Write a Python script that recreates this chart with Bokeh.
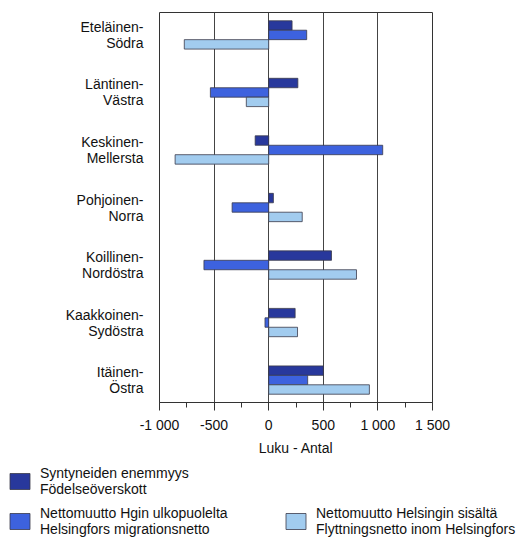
from bokeh.plotting import figure
from bokeh.layouts import column
from bokeh.models import (ColumnDataSource, Range1d, FixedTicker, SingleIntervalTicker,
                          Legend, LegendItem)
from bokeh.transform import dodge
from bokeh.embed import file_html
from bokeh.resources import INLINE

regions = ["Eteläinen-\nSödra", "Läntinen-\nVästra", "Keskinen-\nMellersta",
           "Pohjoinen-\nNorra", "Koillinen-\nNordöstra", "Kaakkoinen-\nSydöstra",
           "Itäinen-\nÖstra"]
births = [214, 267, -124, 43, 575, 242, 500]
external_migration = [348, -534, 1044, -335, -593, -34, 357]
internal_migration = [-773, -205, -857, 307, 804, 264, 922]
x_ticks = [-1000, -500, 0, 500, 1000, 1500]
x_tick_labels = ["-1 000", "-500", "0", "500", "1 000", "1 500"]
series_labels = ["Syntyneiden enemmyys\nFödelseöverskott",
                 "Nettomuutto Hgin ulkopuolelta\nHelsingfors migrationsnetto",
                 "Nettomuutto Helsingin sisältä\nFlyttningsnetto inom Helsingfors"]
colors = ["#28389c", "#3d62de", "#a2ccef"]

FONT = "Liberation Sans"
LINE = "#3a3a4a"

src = ColumnDataSource(dict(
    y=list(range(len(regions))),
    births=births, ext=external_migration, intl=internal_migration))

p = figure(width=531, height=458, output_backend="svg", toolbar_location=None,
           x_range=Range1d(-1000, 1500), y_range=Range1d(6.39, -0.39),
           min_border_left=159, min_border_right=99, min_border_top=12,
           min_border_bottom=53, frame_align=False)

bh = 0.164
fields = ["births", "ext", "intl"]
offsets = [-bh, 0, bh]
for f, off, c in zip(fields, offsets, colors):
    p.hbar(y=dodge("y", off, range=p.y_range), left=0, right=f, height=bh,
           source=src, fill_color=c, line_color=LINE, line_width=0.8)

# axes
p.xaxis.ticker = SingleIntervalTicker(interval=500, num_minor_ticks=2)
p.xaxis.major_label_overrides = {t: l for t, l in zip(x_ticks, x_tick_labels)}
p.xaxis.axis_label = "Luku - Antal"
p.xaxis.axis_label_text_font = FONT
p.xaxis.axis_label_text_font_size = "14px"
p.xaxis.axis_label_text_font_style = "normal"
p.xaxis.axis_label_standoff = 4
p.xaxis.major_label_text_font = FONT
p.xaxis.major_label_text_font_size = "14px"
p.xaxis.major_label_standoff = 6
p.xaxis.major_tick_out = 8
p.xaxis.major_tick_in = 0
p.xaxis.minor_tick_out = 5
p.xaxis.minor_tick_in = 0
p.xaxis.axis_line_color = "#333333"
p.xaxis.major_tick_line_color = "#333333"
p.xaxis.minor_tick_line_color = "#333333"
p.xaxis.major_label_text_color = "#111111"
p.xaxis.axis_label_text_color = "#111111"

p.yaxis.ticker = FixedTicker(ticks=list(range(len(regions))))
p.yaxis.major_label_overrides = {i: lab for i, lab in enumerate(regions)}
p.yaxis.major_label_text_font = FONT
p.yaxis.major_label_text_font_size = "14px"
p.yaxis.major_label_text_line_height = 1.0
p.yaxis.major_label_text_color = "#111111"
p.yaxis.major_label_standoff = 10
p.yaxis.axis_line_color = None
p.yaxis.major_tick_line_color = None
p.yaxis.minor_tick_line_color = None

p.xgrid.ticker = FixedTicker(ticks=x_ticks)
p.xgrid.grid_line_color = "#444444"
p.xgrid.grid_line_width = 1
p.ygrid.grid_line_color = None
p.outline_line_color = "#333333"
p.outline_line_width = 1

# legend in its own figure below (hidden copies of the bars feed the legend glyphs)
lf = figure(width=531, height=82, output_backend="svg", toolbar_location=None,
            x_axis_location=None, y_axis_location=None, min_border=0,
            outline_line_color=None, frame_align=False)
lf.grid.visible = False
legend_renderers = []
for f, c in zip(fields, colors):
    r = lf.hbar(y="y", left=0, right=f, height=bh, source=src, fill_color=c,
                line_color=LINE, line_width=0.8)
    r.visible = False
    legend_renderers.append(r)
blank = lf.hbar(y=[], left=[], right=[], height=1, fill_alpha=0, line_alpha=0)

items = [LegendItem(label=series_labels[0], renderers=[legend_renderers[0]]),
         LegendItem(label=series_labels[1], renderers=[legend_renderers[1]]),
         LegendItem(label=" ", renderers=[blank]),
         LegendItem(label=series_labels[2], renderers=[legend_renderers[2]])]
legend = Legend(items=items, location="top_left", orientation="vertical", nrows=2,
                padding=1, margin=7, spacing=8, border_line_color=None,
                background_fill_alpha=0, glyph_width=25, glyph_height=20,
                label_standoff=8, label_width=235,
                label_text_font=FONT, label_text_font_size="14px",
                label_text_line_height=1.0,
                label_text_color="#111111")
lf.add_layout(legend, "center")

open("out.html", "w").write(file_html(column(p, lf, spacing=0), INLINE))
